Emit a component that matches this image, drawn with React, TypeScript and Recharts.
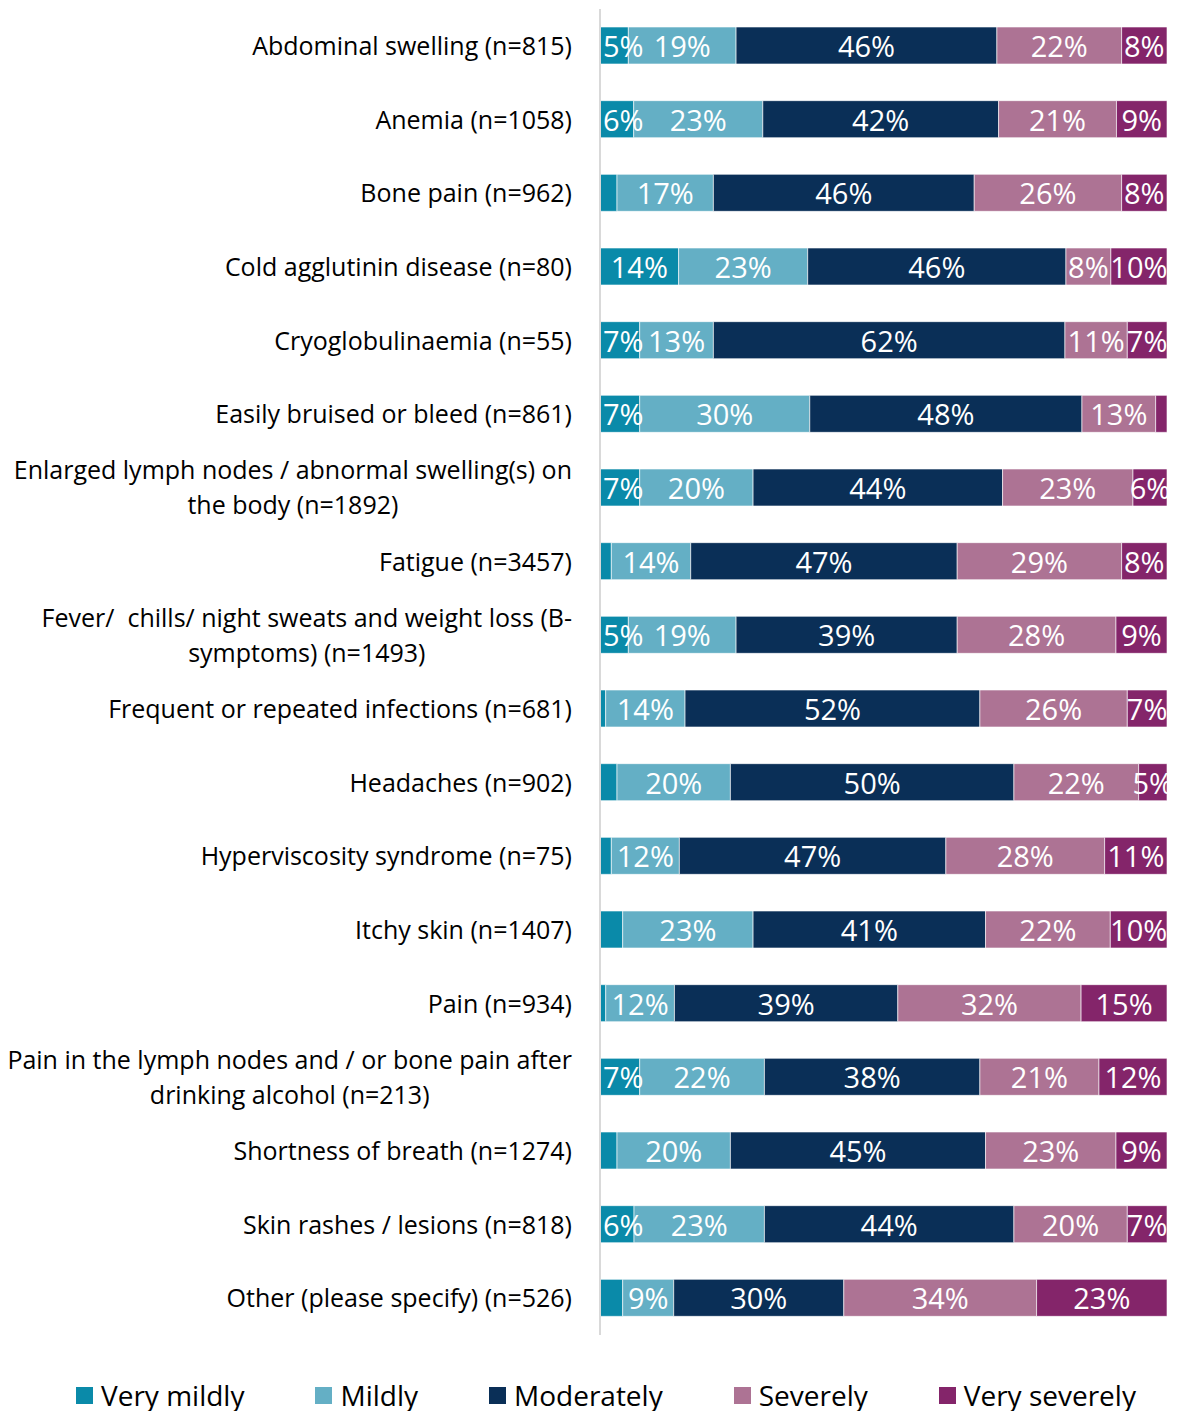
import React from "react";
import {
  BarChart,
  Bar,
  XAxis,
  YAxis,
  Legend,
  LabelList,
} from "recharts";

const categories = [
  "Abdominal swelling (n=815)",
  "Anemia (n=1058)",
  "Bone pain (n=962)",
  "Cold agglutinin disease (n=80)",
  "Cryoglobulinaemia (n=55)",
  "Easily bruised or bleed (n=861)",
  "Enlarged lymph nodes / abnormal swelling(s) on\nthe body (n=1892)",
  "Fatigue (n=3457)",
  "Fever/  chills/ night sweats and weight loss (B-\nsymptoms) (n=1493)",
  "Frequent or repeated infections (n=681)",
  "Headaches (n=902)",
  "Hyperviscosity syndrome (n=75)",
  "Itchy skin (n=1407)",
  "Pain (n=934)",
  "Pain in the lymph nodes and / or bone pain after\ndrinking alcohol (n=213)",
  "Shortness of breath (n=1274)",
  "Skin rashes / lesions (n=818)",
  "Other (please specify) (n=526)",
];

const veryMildly = [5, 6, 3, 14, 7, 7, 7, 2, 5, 1, 3, 2, 4, 1, 7, 3, 6, 4];
const mildly = [19, 23, 17, 23, 13, 30, 20, 14, 19, 14, 20, 12, 23, 12, 22, 20, 23, 9];
const moderately = [46, 42, 46, 46, 62, 48, 44, 47, 39, 52, 50, 47, 41, 39, 38, 45, 44, 30];
const severely = [22, 21, 26, 8, 11, 13, 23, 29, 28, 26, 22, 28, 22, 32, 21, 23, 20, 34];
const verySeverely = [8, 9, 8, 10, 7, 2, 6, 8, 9, 7, 5, 11, 10, 15, 12, 9, 7, 23];

const seriesNames = ["Very mildly", "Mildly", "Moderately", "Severely", "Very severely"];
const seriesKeys = ["veryMildly", "mildly", "moderately", "severely", "verySeverely"];
const COLORS = ["#0a8aa9", "#64afc5", "#0a2f57", "#ad7394", "#84256a"];

const data = categories.map((name, i) => ({
  name,
  veryMildly: veryMildly[i],
  mildly: mildly[i],
  moderately: moderately[i],
  severely: severely[i],
  verySeverely: verySeverely[i],
}));

const FONT = '"Open Sans", sans-serif';
const TICK_SIZE = 25;

let ctx: CanvasRenderingContext2D | null = null;
const measure = (s: string, size: number) => {
  if (!ctx) ctx = document.createElement("canvas").getContext("2d");
  if (!ctx) return s.length * size * 0.5;
  ctx.font = `${size}px "Open Sans"`;
  return ctx.measureText(s).width;
};

const CategoryTick = (props: any) => {
  const { x, y, payload } = props;
  const lines: string[] = String(payload.value).split("\n");
  const right = x - 26;
  if (lines.length === 1) {
    return (
      <text x={right} y={y - 1} textAnchor="end" dominantBaseline="central"
        fontSize={TICK_SIZE} fontFamily={FONT} fill="#000" style={{ whiteSpace: "pre" }}>
        {lines[0]}
      </text>
    );
  }
  const w = Math.max(...lines.map((l) => measure(l, TICK_SIZE)));
  const cx = right - w / 2;
  const step = 35;
  const start = y - 1 - ((lines.length - 1) * step) / 2;
  return (
    <g>
      {lines.map((l, i) => (
        <text key={i} x={cx} y={start + i * step} textAnchor="middle" dominantBaseline="central"
          fontSize={TICK_SIZE} fontFamily={FONT} fill="#000" style={{ whiteSpace: "pre" }}>
          {l}
        </text>
      ))}
    </g>
  );
};

const SegmentLabel = (props: any) => {
  const { x, y, width, height, value } = props;
  const v = Number(value);
  if (value == null || isNaN(v) || v < 5) return null;
  const txt = `${v}%`;
  const size = 29;
  const tw = measure(txt, size);
  let tx = Number(x) + Number(width) / 2;
  let anchor: "middle" | "start" = "middle";
  if (tx - tw / 2 < 603) {
    tx = 603;
    anchor = "start";
  }
  return (
    <text x={tx} y={Number(y) + Number(height) / 2} textAnchor={anchor} dominantBaseline="central"
      fontSize={size} fontFamily={FONT} fill="#fff">
      {txt}
    </text>
  );
};

const LegendContent = () => (
  <div style={{ display: "flex", justifyContent: "flex-start", gap: 71, paddingLeft: 76, fontFamily: FONT }}>
    {seriesNames.map((n, i) => (
      <div key={n} style={{ display: "flex", alignItems: "center" }}>
        <span style={{ width: 17, height: 17, background: COLORS[i], display: "inline-block", marginRight: 8 }} />
        <span style={{ fontSize: 28, color: "#000", lineHeight: "36px", whiteSpace: "nowrap" }}>{n}</span>
      </div>
    ))}
  </div>
);

const App: React.FC = () => (
  <div style={{ position: "absolute", left: 0, top: 0 }}>
    <BarChart
      width={1167}
      height={1411}
      data={data}
      layout="vertical"
      stackOffset="expand"
      barSize={37}
      margin={{ top: 9, right: 0, bottom: 40, left: 0 }}
    >
      <XAxis type="number" hide domain={[0, 1]} />
      <YAxis
        type="category"
        dataKey="name"
        width={600}
        tickLine={false}
        tickSize={0}
        axisLine={{ stroke: "#d9d9d9", strokeWidth: 2 }}
        tick={<CategoryTick />}
        interval={0}
      />
      <Legend
        verticalAlign="bottom"
        content={<LegendContent />}
        wrapperStyle={{ position: "absolute", left: 0, top: 1377, width: 1177, bottom: "auto" }}
      />
      {seriesKeys.map((k, i) => (
        <Bar key={k} dataKey={k} name={seriesNames[i]} stackId="a" fill={COLORS[i]}
          stroke="#ffffff" strokeWidth={0.6} isAnimationActive={false}>
          <LabelList dataKey={k} content={<SegmentLabel />} />
        </Bar>
      ))}
    </BarChart>
  </div>
);

export default App;
